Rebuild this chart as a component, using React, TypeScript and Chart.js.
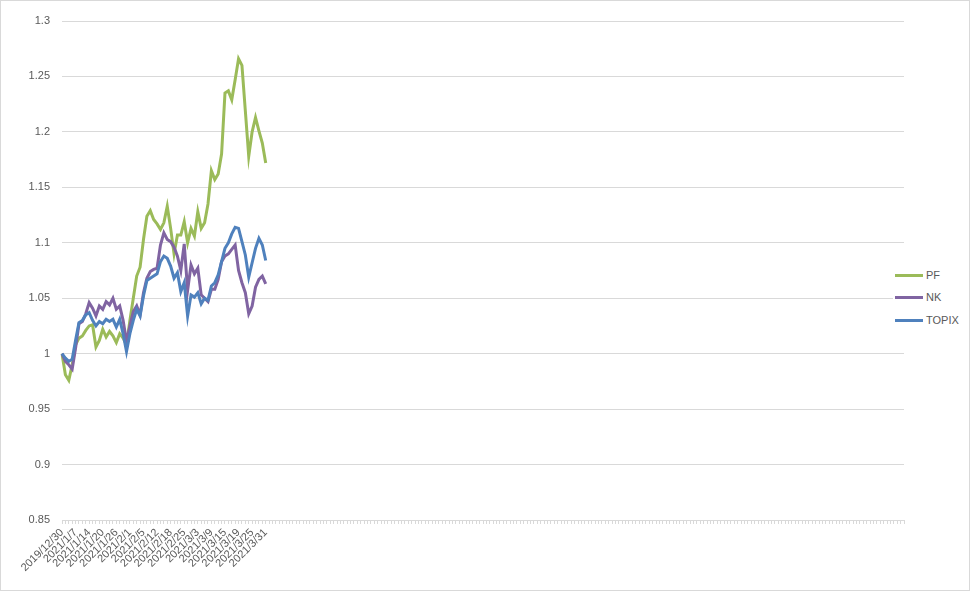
import React, { useEffect, useRef } from "react";
import { Chart, registerables } from "chart.js";

Chart.register(...registerables);

const DATES: string[] = [
  "2019/12/30",
  "2021/1/4", "2021/1/5", "2021/1/6", "2021/1/7", "2021/1/8", "2021/1/12", "2021/1/13", "2021/1/14",
  "2021/1/15", "2021/1/18", "2021/1/19", "2021/1/20", "2021/1/21", "2021/1/22", "2021/1/25", "2021/1/26",
  "2021/1/27", "2021/1/28", "2021/1/29", "2021/2/1", "2021/2/2", "2021/2/3", "2021/2/4", "2021/2/5",
  "2021/2/8", "2021/2/9", "2021/2/10", "2021/2/12", "2021/2/15", "2021/2/16", "2021/2/17", "2021/2/18",
  "2021/2/19", "2021/2/22", "2021/2/24", "2021/2/25", "2021/2/26", "2021/3/1", "2021/3/2", "2021/3/3",
  "2021/3/4", "2021/3/5", "2021/3/8", "2021/3/9", "2021/3/10", "2021/3/11", "2021/3/12", "2021/3/15",
  "2021/3/16", "2021/3/17", "2021/3/18", "2021/3/19", "2021/3/22", "2021/3/23", "2021/3/24", "2021/3/25",
  "2021/3/26", "2021/3/29", "2021/3/30", "2021/3/31",
];

// The category axis continues with empty rows after the last date.
const TOTAL_CATEGORIES = 249;
const LABEL_EVERY = 4;

const PF: number[] = [
  1.000, 0.981, 0.976, 0.990, 1.008, 1.014, 1.016, 1.021, 1.025, 1.026,
  1.006, 1.012, 1.022, 1.015, 1.020, 1.016, 1.010, 1.018, 1.014, 1.008,
  1.030, 1.050, 1.070, 1.078, 1.103, 1.124, 1.129, 1.121, 1.117, 1.112,
  1.118, 1.133, 1.113, 1.090, 1.107, 1.107, 1.119, 1.100, 1.113, 1.106,
  1.128, 1.113, 1.118, 1.135, 1.165, 1.157, 1.162, 1.180, 1.235, 1.237,
  1.229, 1.247, 1.266, 1.260, 1.219, 1.178, 1.200, 1.213, 1.201, 1.190,
  1.172,
];

const NK: number[] = [
  1.000, 0.993, 0.990, 0.986, 1.005, 1.027, 1.029, 1.036, 1.046, 1.041,
  1.034, 1.043, 1.040, 1.047, 1.044, 1.050, 1.040, 1.043, 1.030, 1.011,
  1.025, 1.038, 1.043, 1.035, 1.055, 1.068, 1.074, 1.076, 1.077, 1.098,
  1.109, 1.103, 1.101, 1.096, 1.088, 1.075, 1.099, 1.057, 1.080, 1.072,
  1.077, 1.053, 1.050, 1.047, 1.058, 1.058, 1.067, 1.083, 1.088, 1.090,
  1.094, 1.098, 1.075, 1.064, 1.055, 1.036, 1.043, 1.060, 1.067, 1.070,
  1.063,
];

const TOPIX: number[] = [
  1.000, 0.996, 0.993, 0.995, 1.012, 1.028, 1.030, 1.035, 1.037, 1.030,
  1.025, 1.029, 1.027, 1.031, 1.029, 1.031, 1.024, 1.031, 1.018, 1.002,
  1.018, 1.030, 1.040, 1.034, 1.052, 1.066, 1.068, 1.070, 1.072, 1.083,
  1.088, 1.086, 1.079, 1.068, 1.073, 1.056, 1.064, 1.034, 1.053, 1.051,
  1.055, 1.045, 1.050, 1.048, 1.061, 1.064, 1.071, 1.083, 1.095, 1.100,
  1.108, 1.114, 1.113, 1.101, 1.089, 1.069, 1.082, 1.095, 1.104, 1.098,
  1.084,
];

const SERIES_NAMES = ["PF", "NK", "TOPIX"];
const SERIES_COLORS = ["#9BBB59", "#8064A2", "#4F81BD"];

const Y_MIN = 0.85;
const Y_MAX = 1.3;
const Y_STEP = 0.05;

const FONT_FAMILY = "'Liberation Sans', Arial, sans-serif";
const TEXT_COLOR = "#595959";
const GRID_COLOR = "#d9d9d9";

export default function App() {
  const canvasRef = useRef<HTMLCanvasElement | null>(null);

  useEffect(() => {
    const canvas = canvasRef.current;
    if (!canvas) return;
    const labels: string[] = [];
    for (let i = 0; i < TOTAL_CATEGORIES; i++) labels.push(i < DATES.length ? DATES[i] : "");
    const seriesData = [PF, NK, TOPIX];

    const chart = new Chart(canvas, {
      type: "line",
      data: {
        labels,
        datasets: seriesData.map((d, k) => ({
          label: SERIES_NAMES[k],
          data: d,
          borderColor: SERIES_COLORS[k],
          backgroundColor: SERIES_COLORS[k],
          borderWidth: 3,
          pointRadius: 0,
          tension: 0,
          fill: false,
          order: seriesData.length - 1 - k,
        })),
      },
      options: {
        animation: false,
        responsive: false,
        devicePixelRatio: 1,
        layout: { padding: { top: 21, right: 67, bottom: 0, left: 0 } },
        plugins: { legend: { display: false }, tooltip: { enabled: false } },
        scales: {
          x: {
            type: "category",
            offset: false,
            grid: {
              display: true,
              drawOnChartArea: false,
              drawTicks: true,
              tickLength: 4,
              color: GRID_COLOR,
            },
            border: { display: true, color: GRID_COLOR, width: 1 },
            ticks: {
              autoSkip: false,
              maxRotation: 45,
              minRotation: 45,
              padding: 2,
              color: TEXT_COLOR,
              font: { family: FONT_FAMILY, size: 11 },
              callback: (_v: any, index: number) =>
                index % LABEL_EVERY === 0 ? labels[index] : "",
            },
            afterFit: (scale: any) => {
              scale.height = 75;
            },
          },
          y: {
            min: Y_MIN,
            max: Y_MAX,
            grid: { color: GRID_COLOR, drawTicks: false },
            border: { display: false },
            ticks: {
              stepSize: Y_STEP,
              padding: 12,
              color: TEXT_COLOR,
              font: { family: FONT_FAMILY, size: 11 },
              callback: (v: any) => String(Number(Number(v).toFixed(2))),
            },
            afterFit: (scale: any) => {
              scale.width = 62;
            },
          },
        },
      },
    });
    return () => chart.destroy();
  }, []);

  const legendTops = [275, 297, 320];

  return (
    <div style={{ position: "fixed", left: 0, top: 0, width: 971, height: 595, background: "#fff", overflow: "hidden" }}>
      <canvas ref={canvasRef} width={971} height={595} style={{ display: "block", width: 971, height: 595 }} />
      <div
        style={{
          position: "absolute",
          left: 0,
          top: 0,
          width: 968,
          height: 589,
          border: `1px solid ${GRID_COLOR}`,
          pointerEvents: "none",
        }}
      />
      <div
        style={{
          position: "absolute",
          left: 893,
          top: 264,
          width: 70,
          height: 68,
          background: "#fff",
        }}
      />
      {SERIES_NAMES.map((name, k) => (
        <div key={name}>
          <div
            style={{
              position: "absolute",
              left: 895,
              top: legendTops[k] - 1,
              width: 28,
              height: 3,
              background: SERIES_COLORS[k],
            }}
          />
          <div
            style={{
              position: "absolute",
              left: 926,
              top: legendTops[k] - 7,
              height: 14,
              lineHeight: "14px",
              fontFamily: FONT_FAMILY,
              fontSize: 11,
              color: TEXT_COLOR,
              whiteSpace: "nowrap",
            }}
          >
            {name}
          </div>
        </div>
      ))}
    </div>
  );
}
